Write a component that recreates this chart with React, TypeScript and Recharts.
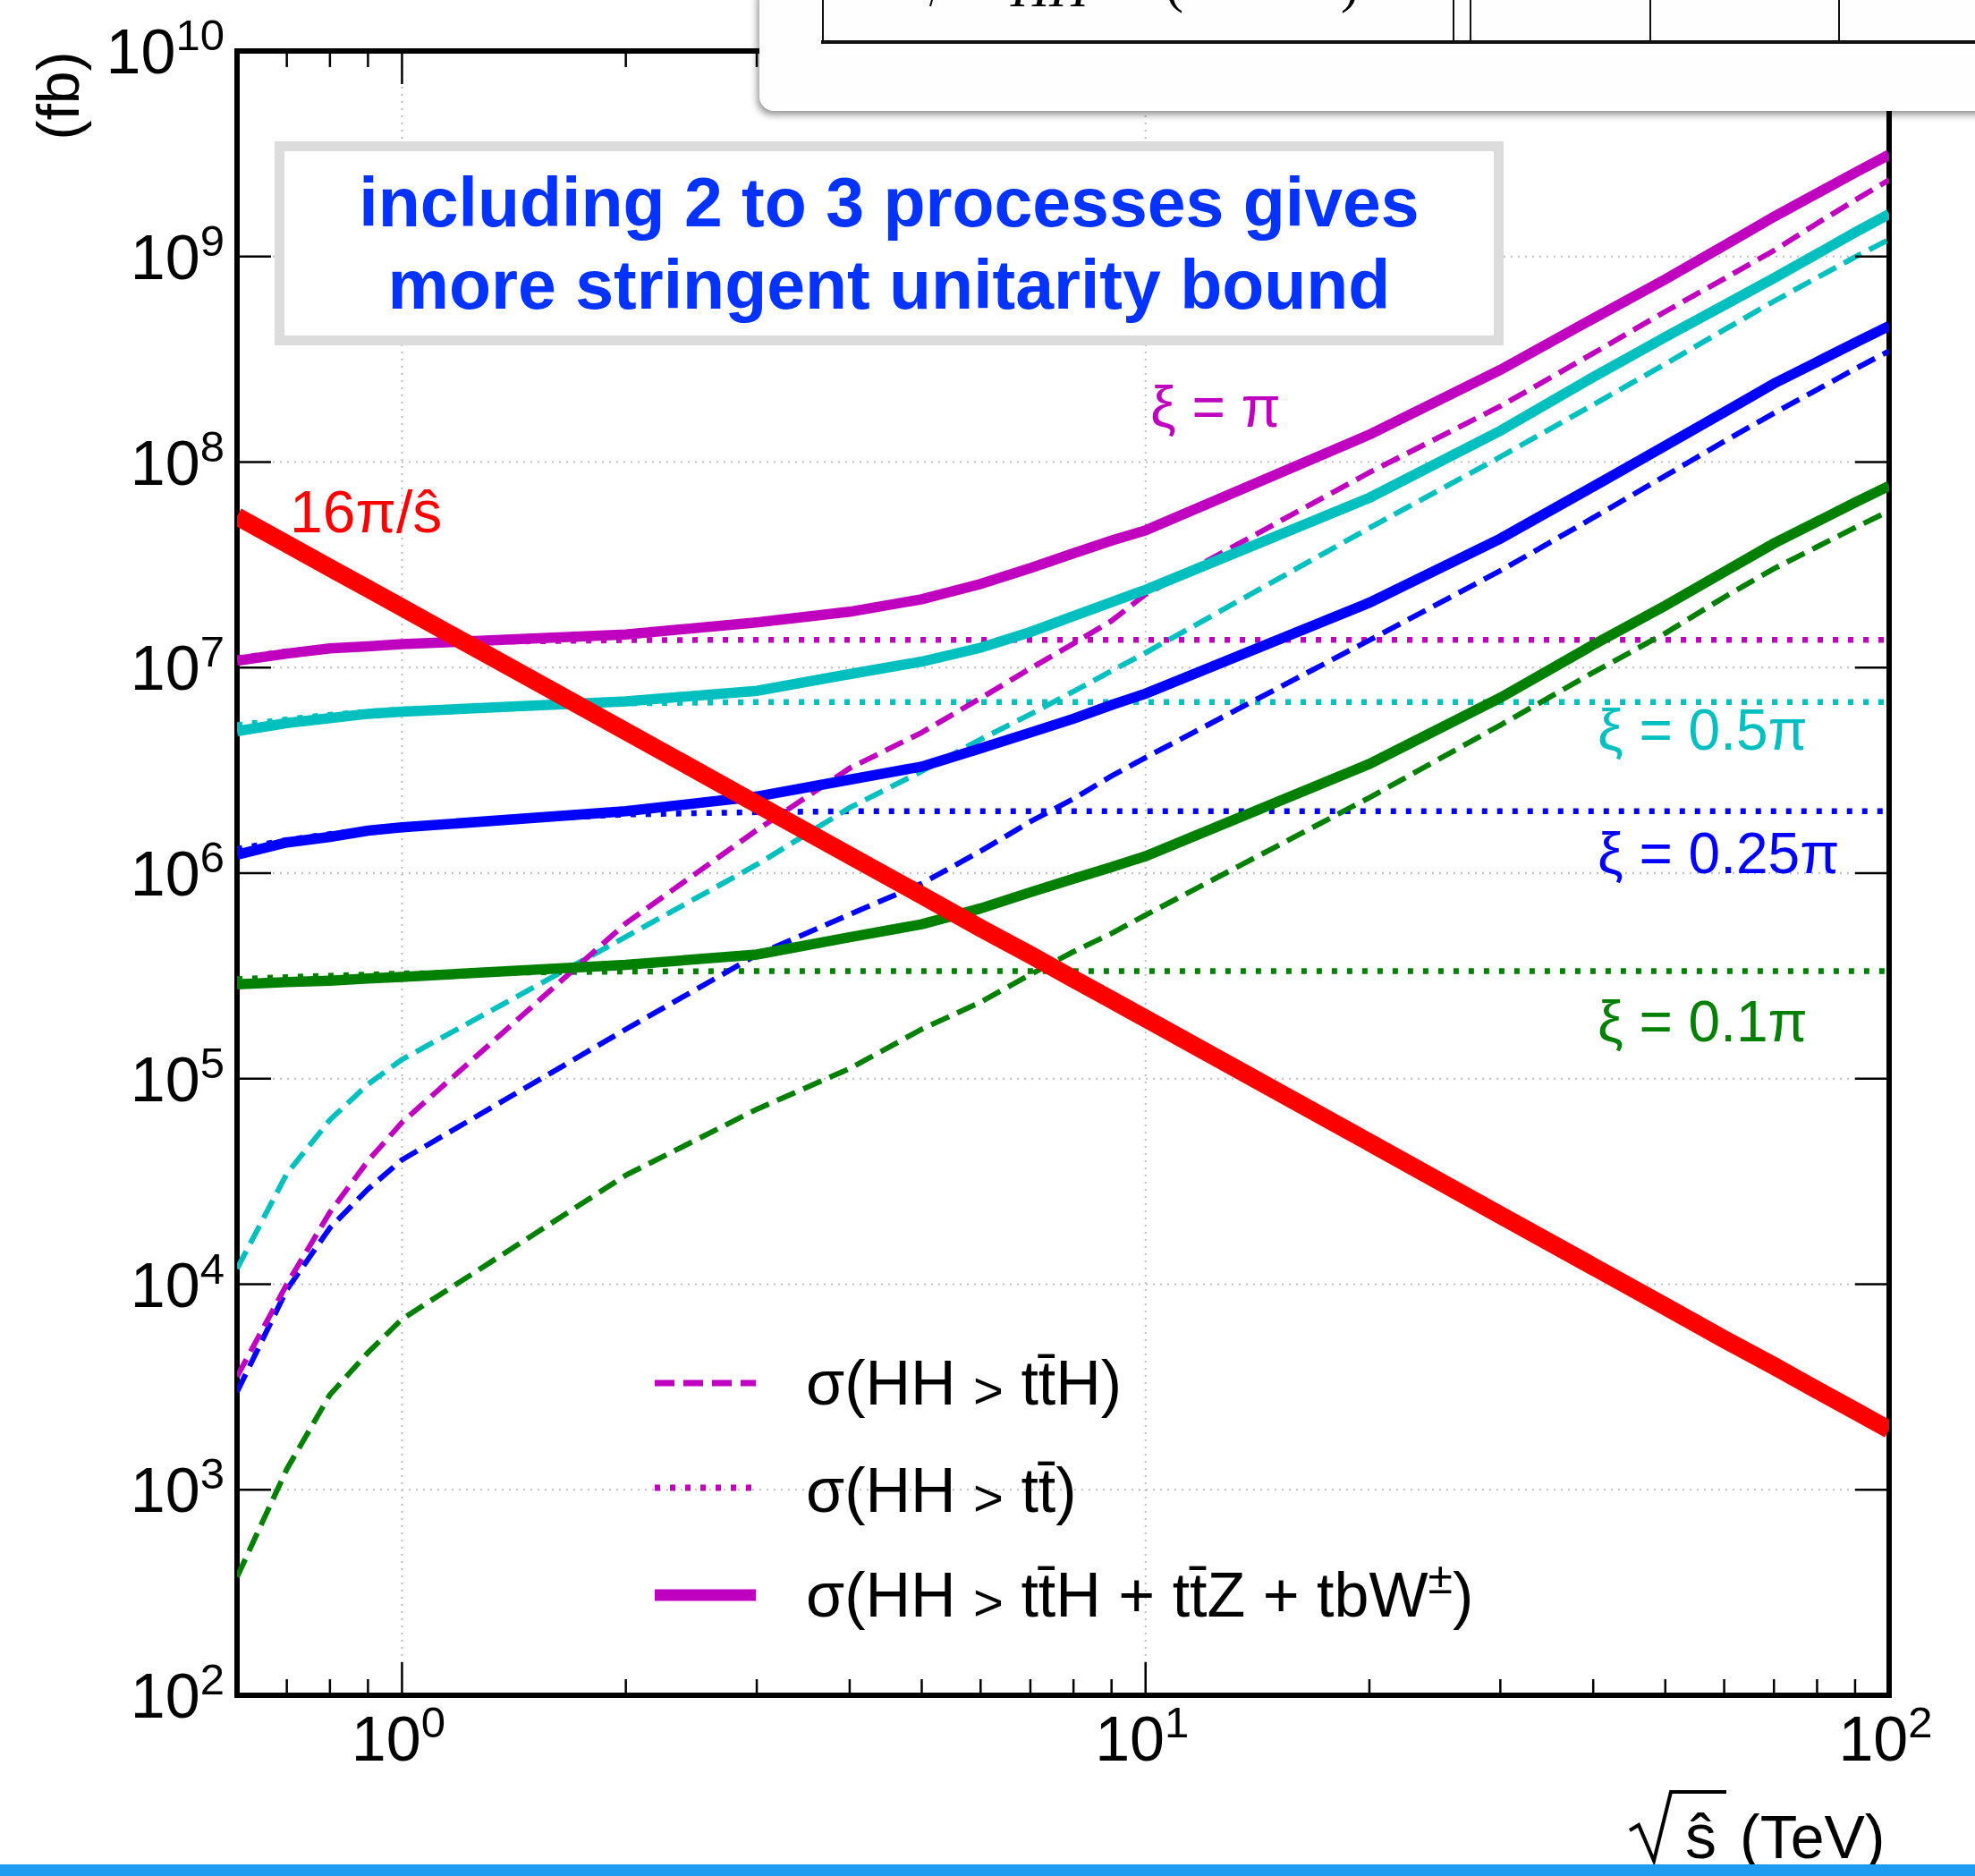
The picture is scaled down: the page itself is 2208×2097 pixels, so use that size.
import {
  LineChart,
  Line,
  XAxis,
  YAxis,
  CartesianGrid,
  ReferenceArea,
  Legend,
} from 'recharts'

// sqrt(s-hat) in TeV
const SQRT_S = [0.6, 0.7, 0.8, 0.9, 1, 2, 3, 4, 5, 6, 7, 8, 9, 10, 20, 30, 40, 50, 60, 70, 80, 90, 100]

// xi = pi (magenta): sum of 2->3, ttH only, tt only  (fb)
const SUM_PI = [1.08e7, 1.17e7, 1.24e7, 1.27e7, 1.3e7, 1.45e7, 1.66e7, 1.87e7, 2.15e7, 2.55e7, 3.05e7, 3.6e7, 4.15e7, 4.65e7, 1.36e8, 2.81e8, 4.99e8, 7.74e8, 1.13e9, 1.56e9, 2.03e9, 2.56e9, 3.13e9]
const TTH_PI = [3.55e3, 1.0e4, 2.24e4, 3.98e4, 6.13e4, 5.7e5, 1.62e6, 3.24e6, 4.83e6, 7.1e6, 9.9e6, 1.31e7, 1.69e7, 2.27e7, 8.9e7, 1.87e8, 3.38e8, 5.4e8, 7.8e8, 1.07e9, 1.45e9, 1.88e9, 2.36e9]
const TT_PI = [1.11e7, 1.2e7, 1.26e7, 1.29e7, 1.32e7, 1.36e7, 1.365e7, 1.365e7, 1.365e7, 1.365e7, 1.365e7, 1.365e7, 1.365e7, 1.365e7, 1.365e7, 1.365e7, 1.365e7, 1.365e7, 1.365e7, 1.365e7, 1.365e7, 1.365e7, 1.365e7]

// xi = 0.5 pi (cyan)
const SUM_HALF = [4.91e6, 5.37e6, 5.68e6, 5.96e6, 6.1e6, 6.85e6, 7.71e6, 9.3e6, 1.07e7, 1.25e7, 1.49e7, 1.78e7, 2.08e7, 2.39e7, 6.7e7, 1.42e8, 2.59e8, 4.06e8, 5.8e8, 7.85e8, 1.03e9, 1.31e9, 1.61e9]
const TTH_HALF = [1.19e4, 3.45e4, 6.3e4, 9.4e4, 1.24e5, 4.9e5, 1.1e6, 2.08e6, 3.13e6, 4.48e6, 5.93e6, 7.66e6, 9.64e6, 1.18e7, 4.78e7, 1.06e8, 1.9e8, 3.0e8, 4.4e8, 6.06e8, 7.89e8, 9.95e8, 1.21e9]
const TT_HALF = [5.25e6, 5.6e6, 5.9e6, 6.1e6, 6.25e6, 6.7e6, 6.8e6, 6.8e6, 6.8e6, 6.8e6, 6.8e6, 6.8e6, 6.8e6, 6.8e6, 6.8e6, 6.8e6, 6.8e6, 6.8e6, 6.8e6, 6.8e6, 6.8e6, 6.8e6, 6.8e6]

// xi = 0.25 pi (blue)
const SUM_QUARTER = [1.23e6, 1.41e6, 1.5e6, 1.61e6, 1.67e6, 2.0e6, 2.36e6, 2.85e6, 3.3e6, 4.05e6, 4.83e6, 5.64e6, 6.58e6, 7.47e6, 2.07e7, 4.24e7, 7.6e7, 1.2e8, 1.75e8, 2.41e8, 3.07e8, 3.81e8, 4.59e8]
const TTH_QUARTER = [2.99e3, 9.4e3, 1.88e4, 2.9e4, 4.03e4, 1.74e5, 4.0e5, 6.3e5, 8.9e5, 1.28e6, 1.78e6, 2.3e6, 2.97e6, 3.65e6, 1.36e7, 2.96e7, 5.36e7, 8.57e7, 1.26e8, 1.73e8, 2.25e8, 2.84e8, 3.47e8]
const TT_QUARTER = [1.31e6, 1.45e6, 1.55e6, 1.63e6, 1.7e6, 1.93e6, 1.98e6, 2.0e6, 2.0e6, 2.0e6, 2.0e6, 2.0e6, 2.0e6, 2.0e6, 2.0e6, 2.0e6, 2.0e6, 2.0e6, 2.0e6, 2.0e6, 2.0e6, 2.0e6, 2.0e6]

// xi = 0.1 pi (green)
const SUM_TENTH = [2.88e5, 2.95e5, 3.0e5, 3.07e5, 3.13e5, 3.58e5, 4.02e5, 4.88e5, 5.64e5, 6.74e5, 8.07e5, 9.4e5, 1.07e6, 1.21e6, 3.4e6, 7.13e6, 1.29e7, 2.0e7, 2.92e7, 4.02e7, 5.13e7, 6.36e7, 7.66e7]
const TTH_TENTH = [3.76e2, 1.26e3, 2.9e3, 4.65e3, 6.76e3, 3.39e4, 7.1e4, 1.12e5, 1.74e5, 2.36e5, 3.21e5, 4.15e5, 5.09e5, 6.25e5, 2.33e6, 5.25e6, 9.47e6, 1.47e7, 2.2e7, 3.03e7, 3.87e7, 4.8e7, 5.78e7]
const TT_TENTH = [3.05e5, 3.12e5, 3.17e5, 3.21e5, 3.25e5, 3.32e5, 3.34e5, 3.34e5, 3.34e5, 3.34e5, 3.34e5, 3.34e5, 3.34e5, 3.34e5, 3.34e5, 3.34e5, 3.34e5, 3.34e5, 3.34e5, 3.34e5, 3.34e5, 3.34e5, 3.34e5]

// unitarity bound 16pi/s
const BOUND = [5.44e7, 4.0e7, 3.06e7, 2.42e7, 1.96e7, 4.9e6, 2.17e6, 1.22e6, 7.8e5, 5.4e5, 4.0e5, 3.06e5, 2.42e5, 1.96e5, 4.9e4, 2.17e4, 1.22e4, 7.8e3, 5.4e3, 4.0e3, 3.06e3, 2.42e3, 1.96e3]

const X_TICKS = [0.7, 0.8, 0.9, 1, 2, 3, 4, 5, 6, 7, 8, 9, 10, 20, 30, 40, 50, 60, 70, 80, 90, 100]
const Y_TICKS = [1e2, 1e3, 1e4, 1e5, 1e6, 1e7, 1e8, 1e9, 1e10]
const X_GRID = [1, 10]
const Y_GRID = [1e3, 1e4, 1e5, 1e6, 1e7, 1e8, 1e9]

const data = SQRT_S.map((x, i) => ({
  x,
  sumPi: SUM_PI[i],
  tthPi: TTH_PI[i],
  ttPi: TT_PI[i],
  sumHalf: SUM_HALF[i],
  tthHalf: TTH_HALF[i],
  ttHalf: TT_HALF[i],
  sumQuarter: SUM_QUARTER[i],
  tthQuarter: TTH_QUARTER[i],
  ttQuarter: TT_QUARTER[i],
  sumTenth: SUM_TENTH[i],
  tthTenth: TTH_TENTH[i],
  ttTenth: TT_TENTH[i],
  bound: BOUND[i],
}))

const FONT = '"Liberation Sans", Arial, Helvetica, sans-serif'
const SERIF = '"Liberation Serif", serif'
const MAGENTA = '#bf00bf'
const CYAN = '#00bfbf'
const BLUE = '#0000ff'
const GREEN = '#008000'
const RED = '#ff0000'
const DASH = '22 10'
const DOT = '6 11'

// plot box on the page
const W = 2208
const H = 2097
const PLOT_LEFT = 265
const PLOT_TOP = 57
const PLOT_RIGHT = 2112
const PLOT_BOTTOM = 1895

const SERIES = [
  { key: 'ttTenth', color: GREEN, dash: DOT, w: 6.5 },
  { key: 'ttQuarter', color: BLUE, dash: DOT, w: 6.5 },
  { key: 'ttHalf', color: CYAN, dash: DOT, w: 6.5 },
  { key: 'ttPi', color: MAGENTA, dash: DOT, w: 6.5 },
  { key: 'tthTenth', color: GREEN, dash: DASH, w: 6 },
  { key: 'tthQuarter', color: BLUE, dash: DASH, w: 6 },
  { key: 'tthHalf', color: CYAN, dash: DASH, w: 6 },
  { key: 'tthPi', color: MAGENTA, dash: DASH, w: 6 },
  { key: 'sumTenth', color: GREEN, dash: undefined, w: 11.5 },
  { key: 'sumQuarter', color: BLUE, dash: undefined, w: 11.5 },
  { key: 'sumHalf', color: CYAN, dash: undefined, w: 11.5 },
  { key: 'sumPi', color: MAGENTA, dash: undefined, w: 11.5 },
  { key: 'bound', color: RED, dash: undefined, w: 20 },
]

const decade = (v: number) => {
  const e = Math.round(Math.log10(v))
  return { e, major: Math.abs(Math.log10(v) - e) < 1e-6 }
}

function XTick(props: any) {
  const { x, payload } = props
  const { e, major } = decade(payload.value)
  const len = major ? 37 : 18
  return (
    <g>
      <line x1={x} x2={x} y1={PLOT_BOTTOM} y2={PLOT_BOTTOM - len} stroke="#000" strokeWidth={2.5} />
      <line x1={x} x2={x} y1={PLOT_TOP} y2={PLOT_TOP + len} stroke="#000" strokeWidth={2.5} />
      {major && (
        <text x={x - 4} y={PLOT_BOTTOM + 73} textAnchor="middle" fontFamily={FONT} fontSize={70} fill="#000">
          10<tspan dy={-26} fontSize={49}>{e}</tspan>
        </text>
      )}
    </g>
  )
}

function YTick(props: any) {
  const { y, payload } = props
  const { e } = decade(payload.value)
  return (
    <g>
      <line x1={PLOT_LEFT} x2={PLOT_LEFT + 38} y1={y} y2={y} stroke="#000" strokeWidth={2.5} />
      <line x1={PLOT_RIGHT} x2={PLOT_RIGHT - 38} y1={y} y2={y} stroke="#000" strokeWidth={2.5} />
      <text x={251} y={y + 25} textAnchor="end" fontFamily={FONT} fontSize={70} fill="#000">
        10<tspan dy={-26} fontSize={49}>{e}</tspan>
      </text>
    </g>
  )
}

const TB = 't\u0304'
const Arrow = () => (
  <>
    {' '}
    <tspan fontSize={58} dy={4}>{'>'}</tspan>
    <tspan dy={-4}> </tspan>
  </>
)

function LegendBox() {
  const rows = [
    { y: 56, dash: DASH, w: 7, base: 80, text: <>σ(HH<Arrow />t{TB}H)</> },
    { y: 173, dash: DOT, w: 7, base: 200, text: <>σ(HH<Arrow />t{TB})</> },
    {
      y: 293,
      dash: undefined,
      w: 13,
      base: 317,
      text: (
        <>
          σ(HH<Arrow />t{TB}H + t{TB}Z + tbW<tspan dy={-26} fontSize={50}>±</tspan>
          <tspan dy={26}>)</tspan>
        </>
      ),
    },
  ]
  return (
    <svg width={1000} height={340} style={{ overflow: 'visible' }}>
      {rows.map((r, i) => (
        <g key={i}>
          <line x1={12} x2={125} y1={r.y} y2={r.y} stroke={MAGENTA} strokeWidth={r.w} strokeDasharray={r.dash} />
          <text x={181} y={r.base} fontFamily={FONT} fontSize={70} fill="#000">
            {r.text}
          </text>
        </g>
      ))}
    </svg>
  )
}

export default function App() {
  return (
    <div style={{ position: 'absolute', left: 0, top: 0, width: W, height: H, background: '#fff', overflow: 'hidden' }}>
      <LineChart width={W} height={H} data={data} margin={{ top: PLOT_TOP, right: W - PLOT_RIGHT, bottom: 52, left: 65 }}>
        <CartesianGrid
          horizontalValues={Y_GRID}
          verticalValues={X_GRID}
          stroke="#bdbdbd"
          strokeWidth={2}
          strokeDasharray="2 6"
        />
        <XAxis
          dataKey="x"
          type="number"
          scale="log"
          domain={[0.6, 100]}
          allowDataOverflow
          ticks={X_TICKS}
          interval={0}
          tick={XTick}
          tickLine={false}
          axisLine={false}
          tickSize={0}
          tickMargin={0}
          height={150}
        />
        <YAxis
          type="number"
          scale="log"
          domain={[1e2, 1e10]}
          allowDataOverflow
          ticks={Y_TICKS}
          interval={0}
          tick={YTick}
          tickLine={false}
          axisLine={false}
          tickSize={0}
          tickMargin={0}
          width={200}
        />
        {SERIES.map((s) => (
          <Line
            key={s.key}
            dataKey={s.key}
            type="linear"
            stroke={s.color}
            strokeWidth={s.w}
            strokeDasharray={s.dash}
            dot={false}
            activeDot={false}
            legendType="none"
            isAnimationActive={false}
          />
        ))}
        <ReferenceArea x1={0.6} x2={100} y1={1e2} y2={1e10} fill="none" stroke="#000" strokeWidth={6} ifOverflow="visible" />
        <Legend
          layout="vertical"
          align="center"
          verticalAlign="middle"
          content={() => <LegendBox />}
          wrapperStyle={{ left: 720, top: 1490, width: 1000, height: 340 }}
        />
      </LineChart>

      <svg width={W} height={H} style={{ position: 'absolute', left: 0, top: 0, pointerEvents: 'none' }}>
        <rect x={312.5} y={163.5} width={1363} height={217} fill="#fff" stroke="#dcdcdc" strokeWidth={11} />
        <text x={994} y={253} textAnchor="middle" fontFamily={FONT} fontWeight="bold" fontSize={77} fill="#0433ff">
          including 2 to 3 processes gives
        </text>
        <text x={994} y={345} textAnchor="middle" fontFamily={FONT} fontWeight="bold" fontSize={77} fill="#0433ff">
          more stringent unitarity bound
        </text>

        <text x={324} y={595} fontFamily={FONT} fontSize={66} fill={RED}>16π/ŝ</text>
        <text x={1286} y={477} fontFamily={FONT} fontSize={64} fill={MAGENTA}>ξ = π</text>
        <text x={1786} y={838} fontFamily={FONT} fontSize={64} fill={CYAN}>ξ = 0.5π</text>
        <text x={1786} y={976} fontFamily={FONT} fontSize={64} fill={BLUE}>ξ = 0.25π</text>
        <text x={1786} y={1164} fontFamily={FONT} fontSize={64} fill={GREEN}>ξ = 0.1π</text>

        <text transform="translate(88,107) rotate(-90)" textAnchor="middle" fontFamily={FONT} fontSize={66} fill="#000">(fb)</text>

        <path d="M1822,2046 L1832,2040 L1849,2080 L1868,2003 L1930,2003" fill="none" stroke="#000" strokeWidth={4} />
        <text x={1884} y={2077} fontFamily={FONT} fontSize={70} fill="#000">ŝ</text>
        <text x={1945} y={2077} fontFamily={FONT} fontSize={68} fill="#000">(TeV)</text>
      </svg>

      {/* slide table overlapping the top of the plot */}
      <div
        style={{
          position: 'absolute',
          left: 849,
          top: -20,
          width: 1420,
          height: 144,
          background: '#fefefe',
          borderRadius: 16,
          boxShadow: '-2px 4px 8px rgba(0,0,0,0.45)',
          overflow: 'hidden',
        }}
      >
        <svg width={1420} height={144}>
          <rect x={69} y={65} width={1400} height={4} fill="#111" />
          {[70, 775, 794, 995, 1206].map((vx) => (
            <rect key={vx} x={vx} y={0} width={2} height={67} fill="#111" />
          ))}
          <line x1={193} y1={20} x2={191} y2={27} stroke="#000" strokeWidth={2} />
          <text x={281} y={27} fontFamily={SERIF} fontStyle="italic" fontSize={60} fill="#000">HH</text>
          <text x={454} y={22} fontFamily={SERIF} fontSize={60} fill="#000">(</text>
          <text x={650} y={22} fontFamily={SERIF} fontSize={60} fill="#000">)</text>
        </svg>
      </div>

      <div style={{ position: 'absolute', left: 0, top: 2084, width: W, height: 13, background: '#1e9cf0' }} />
    </div>
  )
}
